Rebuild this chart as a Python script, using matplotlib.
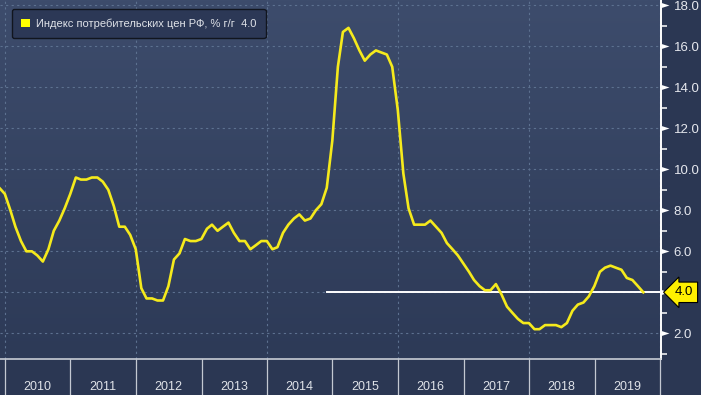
import matplotlib
matplotlib.use('Agg')
import matplotlib.pyplot as plt
import matplotlib.dates as mdates
import matplotlib.ticker as ticker
import matplotlib.patches as patches
import numpy as np
import pandas as pd

plt.rcParams['font.family'] = ['Liberation Sans', 'DejaVu Sans']

# CPI Russia, % y/y, month-end values Nov 2009 .. Sep 2019
cpi_2009 = [9.1, 8.8]
cpi_2010 = [8.0, 7.2, 6.5, 6.0, 6.0, 5.8, 5.5, 6.1, 7.0, 7.5, 8.1, 8.8]
cpi_2011 = [9.6, 9.5, 9.5, 9.6, 9.6, 9.4, 9.0, 8.2, 7.2, 7.2, 6.8, 6.1]
cpi_2012 = [4.2, 3.7, 3.7, 3.6, 3.6, 4.3, 5.6, 5.9, 6.6, 6.5, 6.5, 6.6]
cpi_2013 = [7.1, 7.3, 7.0, 7.2, 7.4, 6.9, 6.5, 6.5, 6.1, 6.3, 6.5, 6.5]
cpi_2014 = [6.1, 6.2, 6.9, 7.3, 7.6, 7.8, 7.5, 7.6, 8.0, 8.3, 9.1, 11.4]
cpi_2015 = [15.0, 16.7, 16.9, 16.4, 15.8, 15.3, 15.6, 15.8, 15.7, 15.6, 15.0, 12.9]
cpi_2016 = [9.8, 8.1, 7.3, 7.3, 7.3, 7.5, 7.2, 6.9, 6.4, 6.1, 5.8, 5.4]
cpi_2017 = [5.0, 4.6, 4.3, 4.1, 4.1, 4.4, 3.9, 3.3, 3.0, 2.7, 2.5, 2.5]
cpi_2018 = [2.2, 2.2, 2.4, 2.4, 2.4, 2.3, 2.5, 3.1, 3.4, 3.5, 3.8, 4.3]
cpi_2019 = [5.0, 5.2, 5.3, 5.2, 5.1, 4.7, 4.6, 4.3, 4.0]

years = list(range(2010, 2020))
label = 'Индекс потребительских цен РФ, % г/г'

values = (cpi_2009 + cpi_2010 + cpi_2011 + cpi_2012 + cpi_2013 + cpi_2014
          + cpi_2015 + cpi_2016 + cpi_2017 + cpi_2018 + cpi_2019)
dates = pd.date_range('2009-12-01', periods=len(values), freq='MS') - pd.Timedelta(days=1)
last = values[-1]

BG = '#2b3753'
YELLOW = '#f5ea1c'
GRID = '#5d7190'

W, H = 701, 395
fig = plt.figure(figsize=(W / 100, H / 100), dpi=100, facecolor=BG)
ax = fig.add_axes([0, 36 / H, 661 / W, 359 / H])

# gradient background of the plot area
grad = np.linspace(0, 1, 256).reshape(-1, 1)
cmap = matplotlib.colors.LinearSegmentedColormap.from_list('bg', ['#3d4c6c', '#2d3a57'])
ax.imshow(grad, cmap=cmap, aspect='auto', extent=[0, 1, 0, 1],
          transform=ax.transAxes, zorder=0)

ax.plot(dates, values, color=YELLOW, lw=1.9, zorder=4, solid_joinstyle='round')

x0 = mdates.date2num(pd.Timestamp('2010-01-01')) - 27.9
x1 = mdates.date2num(pd.Timestamp('2020-01-01')) + 5.6
ax.set_xlim(x0, x1)
ax.set_ylim(0.746, 18.26)

# grid
for v in range(2, 19, 2):
    ax.axhline(v, color=GRID, lw=0.8, ls=(0, (2, 3)), zorder=1)
for y in years[::2] + [2020]:
    ax.axvline(pd.Timestamp(f'{y}-01-01'), color=GRID, lw=0.8, ls=(0, (2, 3)), zorder=1)

# last value line
ax.axhline(last, xmin=327 / 661, xmax=1, color='white', lw=1.4, zorder=3)

# x axis: year dividers + centred labels
ax.xaxis.set_major_locator(mdates.YearLocator())
ax.xaxis.set_major_formatter(ticker.NullFormatter())
ax.xaxis.set_minor_locator(mdates.MonthLocator(bymonth=7, bymonthday=1))
ax.xaxis.set_minor_formatter(mdates.DateFormatter('%Y'))
ax.tick_params(axis='x', which='major', length=27, width=0.9, color='#c3c8d2', direction='out')
ax.tick_params(axis='x', which='minor', length=0, pad=15.5, labelsize=9, labelcolor='#dfe2e8')

# y axis on the right
ax.yaxis.tick_right()
ax.yaxis.set_major_locator(ticker.MultipleLocator(2))
ax.yaxis.set_minor_locator(ticker.MultipleLocator(1))
ax.yaxis.set_major_formatter(ticker.FormatStrFormatter('%.1f'))
ax.tick_params(axis='y', which='major', length=0, pad=9, labelsize=9.5, labelcolor='#e6e8ee')
ax.tick_params(axis='y', which='minor', length=4, width=1.1, color='white', direction='out')
tri = [(0, -0.32), (1, 0), (0, 0.32), (0, -0.32)]
for t in ax.yaxis.get_major_ticks():
    t.tick2line.set_marker(tri)
    t.tick2line.set_markersize(11.5)
    t.tick2line.set_markerfacecolor('white')
    t.tick2line.set_markeredgecolor('white')
    t.tick2line.set_markeredgewidth(0)

for s in ['left', 'top']:
    ax.spines[s].set_visible(False)
ax.spines['right'].set_color('white')
ax.spines['right'].set_linewidth(1.4)
ax.spines['bottom'].set_color('#d5d9e0')
ax.spines['bottom'].set_linewidth(1.1)

# last value flag
ax.annotate(f'{last:.1f}', xy=(1, last), xycoords=('axes fraction', 'data'),
            xytext=(14, 0), textcoords='offset pixels', ha='left', va='center',
            fontsize=9.5, color='black', annotation_clip=False, zorder=7,
            bbox=dict(boxstyle='larrow,pad=0.32', fc='#fff000', ec='black', lw=0.8))

# legend
handle = patches.Patch(facecolor='#ffff00', edgecolor='none')
leg = ax.legend([handle], [f'{label}  {last:.1f}'], loc='upper left',
                bbox_to_anchor=(12 / 661, 1 - 9 / 359), borderaxespad=0,
                fontsize=8, labelcolor='#dfe2e8', frameon=True, fancybox=True,
                facecolor='#2c3856', edgecolor='#11151e', framealpha=1,
                handlelength=0.8, handleheight=0.8, handletextpad=0.5,
                borderpad=0.85)
leg.get_frame().set_linewidth(1.0)
leg.set_zorder(6)

fig.savefig('out.png', dpi=100, facecolor=BG)
